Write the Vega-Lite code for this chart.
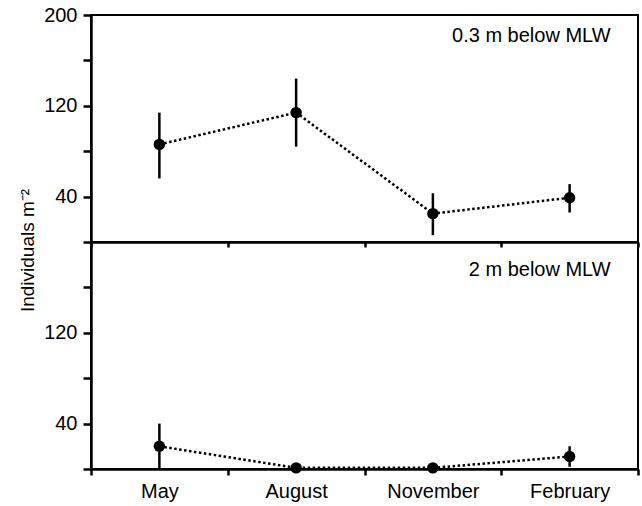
{
  "$schema": "https://vega.github.io/schema/vega-lite/v6.json",
  "padding": {"left": 17, "top": 4, "right": 2, "bottom": 2},
  "background": "white",
  "config": {
    "font": "Liberation Sans",
    "view": {"stroke": "black", "strokeWidth": 2},
    "axis": {
      "domainColor": "black", "domainWidth": 2.5,
      "tickColor": "black", "tickWidth": 2.5, "tickSize": 8,
      "labelColor": "black", "labelFontSize": 20, "labelPadding": 6,
      "grid": false, "titleColor": "black"
    }
  },
  "datasets": {
    "counts": [
      {"depth": "0.3 m", "month": "May", "mean": 86, "lo": 56, "hi": 114},
      {"depth": "0.3 m", "month": "August", "mean": 114, "lo": 84, "hi": 144},
      {"depth": "0.3 m", "month": "November", "mean": 25, "lo": 6, "hi": 43},
      {"depth": "0.3 m", "month": "February", "mean": 39, "lo": 26, "hi": 51},
      {"depth": "2 m", "month": "May", "mean": 20, "lo": 0, "hi": 40},
      {"depth": "2 m", "month": "August", "mean": 1, "lo": 1, "hi": 1},
      {"depth": "2 m", "month": "November", "mean": 1, "lo": 1, "hi": 1},
      {"depth": "2 m", "month": "February", "mean": 11, "lo": 2, "hi": 20}
    ]
  },
  "spacing": 0,
  "bounds": "flush",
  "vconcat": [
    {
      "width": 547, "height": 227,
      "data": {"name": "counts"},
      "transform": [{"filter": "datum.depth === '0.3 m'"}],
      "encoding": {
        "x": {"field": "month", "type": "nominal",
              "scale": {"domain": ["May", "August", "November", "February"]},
              "axis": {"title": null, "labels": false, "tickBand": "extent", "tickSize": 5, "tickOffset": -3}},
        "y": {"field": "mean", "type": "quantitative",
              "scale": {"domain": [0, 200], "nice": false},
              "axis": {"values": [0, 40, 80, 120, 160, 200],
                       "labelExpr": "datum.value == 40 || datum.value == 120 || datum.value == 200 ? datum.label : ''",
                       "title": "Individuals m⁻²", "titleFontSize": 19, "titleFontWeight": "normal",
                       "titleAngle": -90, "titleAlign": "center", "titleBaseline": "middle",
                       "titleX": -64, "titleY": 235}}
      },
      "layer": [
        {"mark": {"type": "line", "color": "black", "strokeWidth": 2.5, "strokeDash": [2.5, 2.5]}},
        {"mark": {"type": "rule", "color": "black", "strokeWidth": 2.5},
         "encoding": {"y": {"field": "lo", "type": "quantitative"}, "y2": {"field": "hi"}}},
        {"mark": {"type": "point", "filled": true, "color": "black", "opacity": 1, "size": 130}},
        {"data": {"values": [{"label": "0.3 m below MLW", "month": "February", "ypos": 176}]},
         "mark": {"type": "text", "align": "right", "baseline": "alphabetic", "fontSize": 20, "color": "black", "dx": 41},
         "encoding": {"text": {"field": "label"}, "y": {"field": "ypos", "type": "quantitative"}}}
      ]
    },
    {
      "width": 547, "height": 227,
      "data": {"name": "counts"},
      "transform": [{"filter": "datum.depth === '2 m'"}],
      "encoding": {
        "x": {"field": "month", "type": "nominal",
              "scale": {"domain": ["May", "August", "November", "February"]},
              "axis": {"title": null, "labelAngle": 0, "tickBand": "extent", "tickSize": 6, "labelPadding": 6}},
        "y": {"field": "mean", "type": "quantitative",
              "scale": {"domain": [0, 200], "nice": false},
              "axis": {"values": [0, 40, 80, 120, 160],
                       "labelExpr": "datum.value == 40 || datum.value == 120 ? datum.label : ''",
                       "title": null}}
      },
      "layer": [
        {"mark": {"type": "line", "color": "black", "strokeWidth": 2.5, "strokeDash": [2.5, 2.5]}},
        {"mark": {"type": "rule", "color": "black", "strokeWidth": 2.5},
         "encoding": {"y": {"field": "lo", "type": "quantitative"}, "y2": {"field": "hi"}}},
        {"mark": {"type": "point", "filled": true, "color": "black", "opacity": 1, "size": 130}},
        {"data": {"values": [{"label": "2 m below MLW", "month": "February", "ypos": 170}]},
         "mark": {"type": "text", "align": "right", "baseline": "alphabetic", "fontSize": 20, "color": "black", "dx": 41},
         "encoding": {"text": {"field": "label"}, "y": {"field": "ypos", "type": "quantitative"}}}
      ]
    }
  ]
}
